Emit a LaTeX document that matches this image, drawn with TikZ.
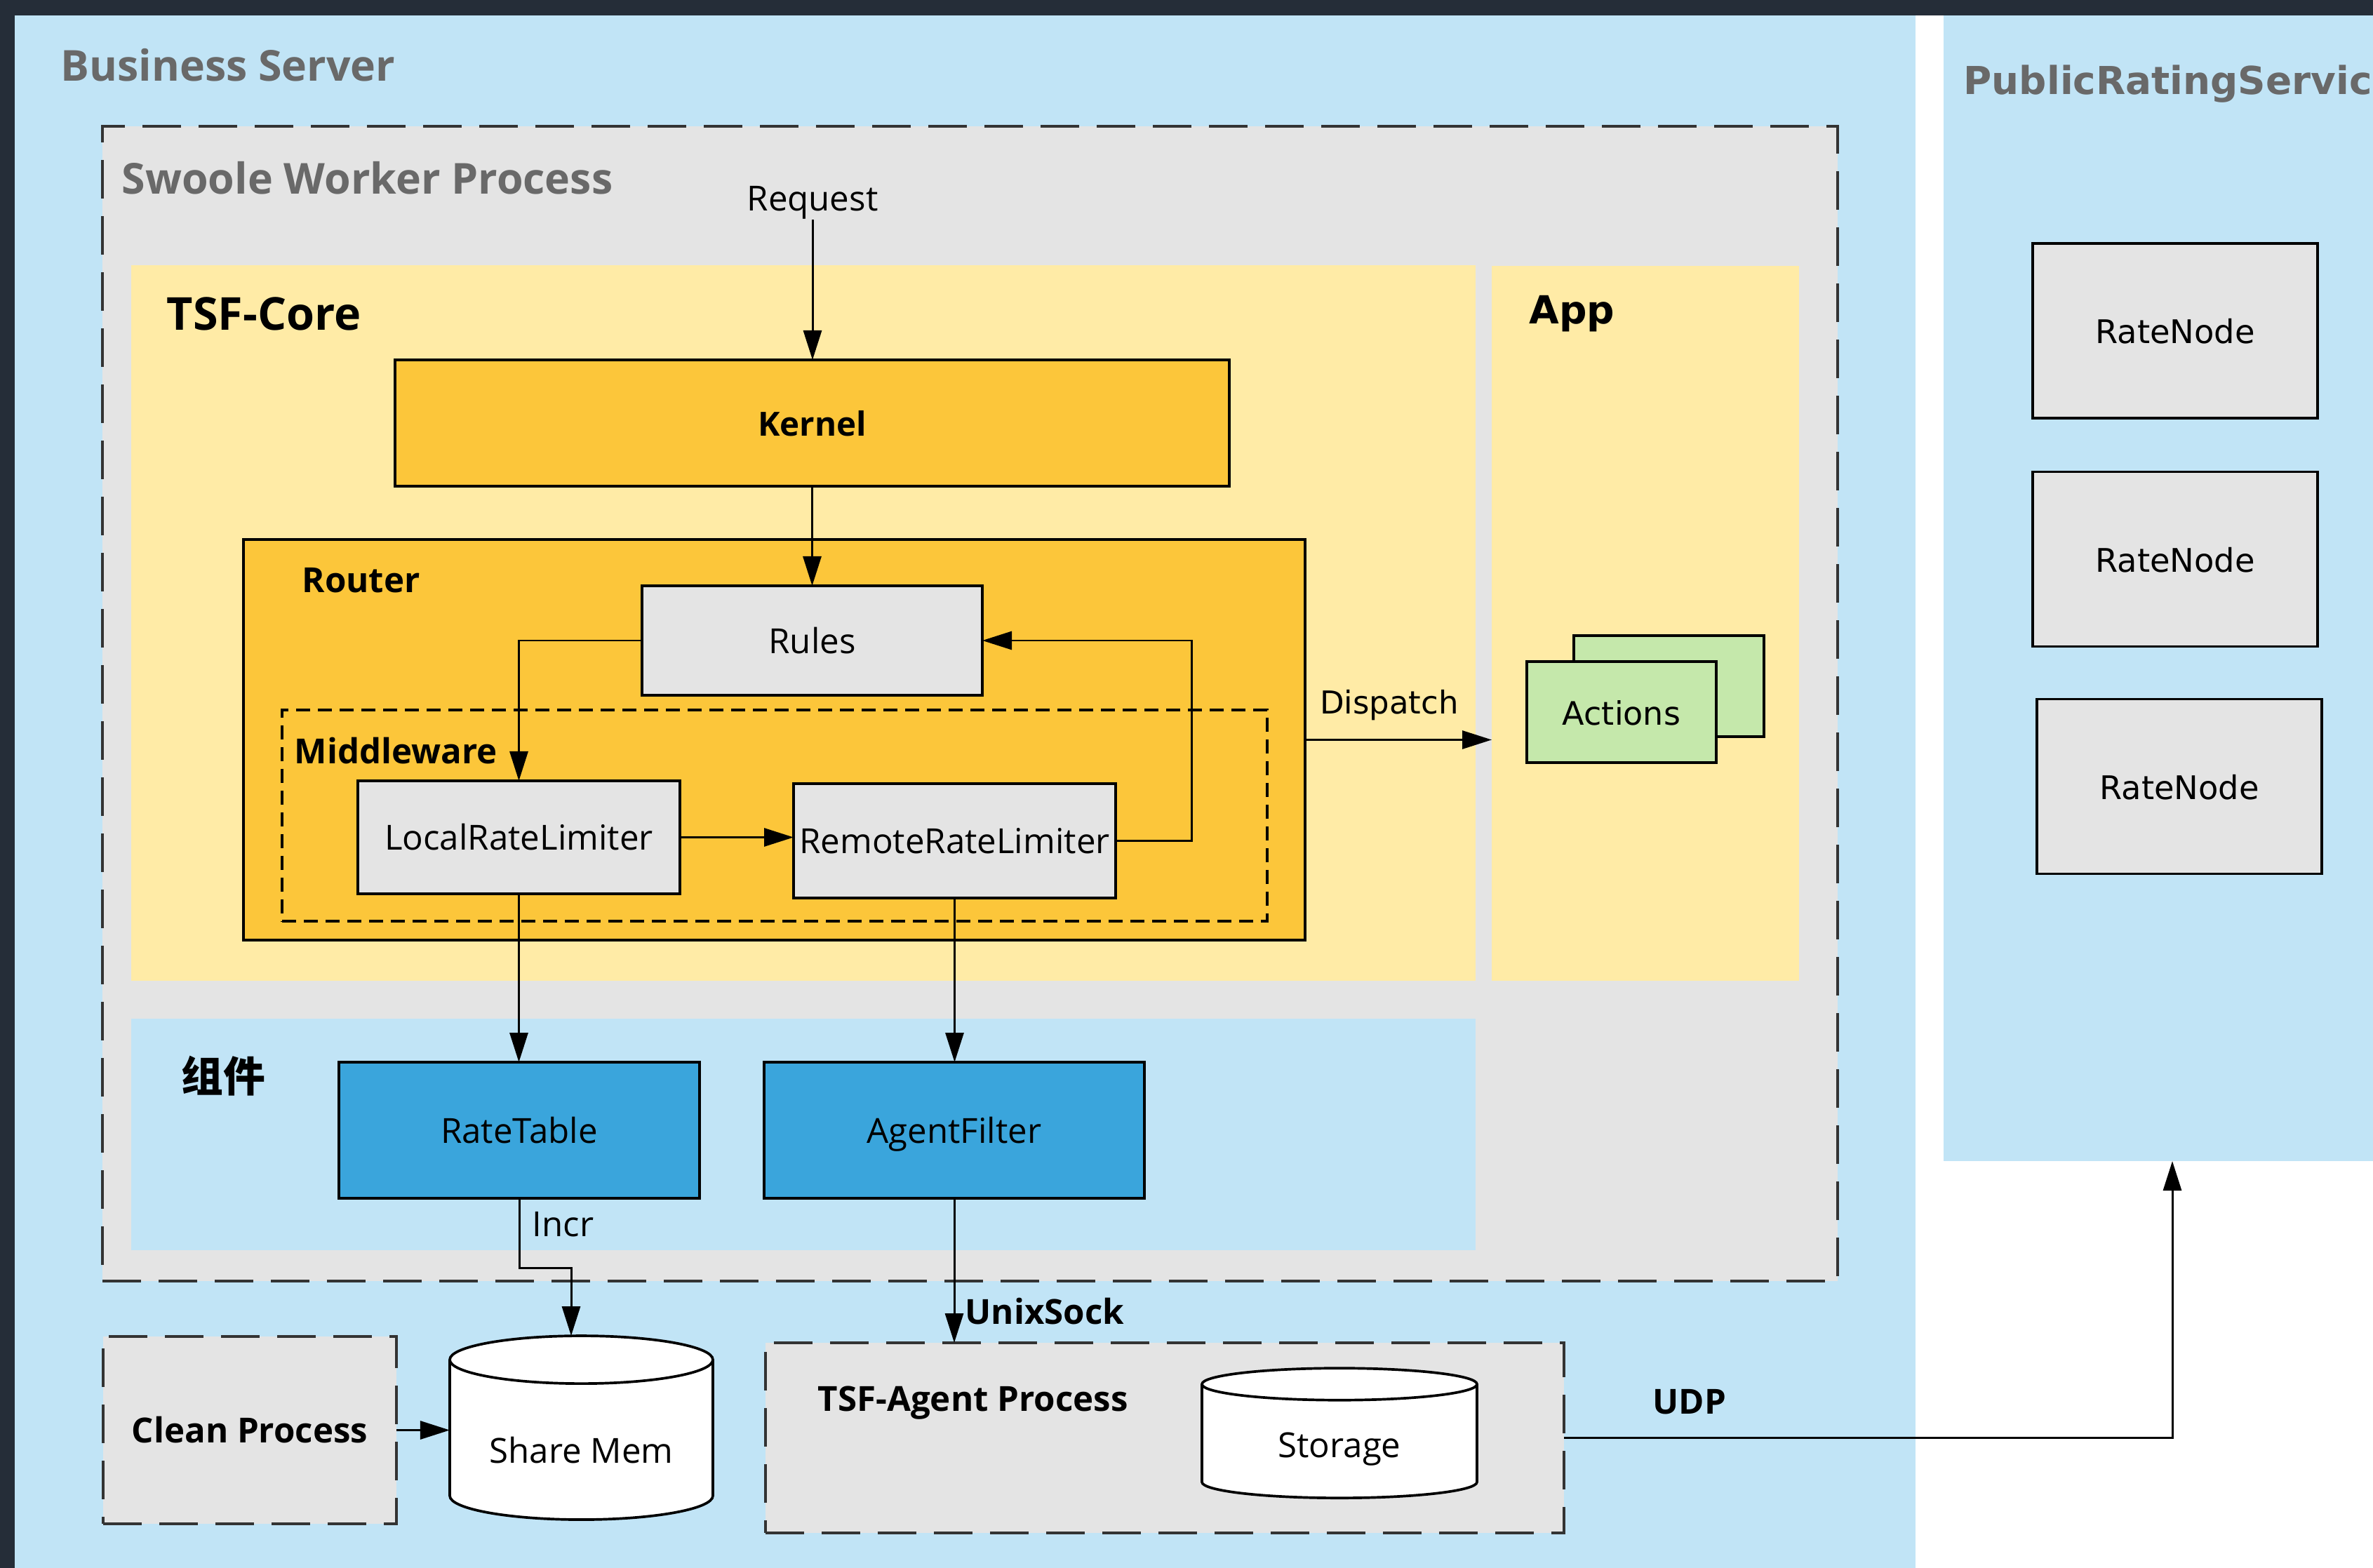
\documentclass[tikz,border=0pt]{standalone}
\usepackage{fontspec}
\setmainfont{Open Sans}
\newfontfamily\verdfont{DejaVu Sans}
\newfontfamily\cjkfont{Noto Sans CJK SC}
\usetikzlibrary{arrows.meta,shapes.geometric}

\definecolor{bgdark}{HTML}{252D38}
\definecolor{srvblue}{HTML}{C1E4F6}
\definecolor{procgray}{HTML}{E4E4E4}
\definecolor{coreyellow}{HTML}{FFEBA6}
\definecolor{kernelgold}{HTML}{FCC63A}
\definecolor{compblue}{HTML}{3AA5DC}
\definecolor{actgreen}{HTML}{C5E8AB}
\definecolor{titlegray}{HTML}{696969}

\tikzset{
  region/.style={inner sep=0pt, outer sep=0pt},
  dashregion/.style={region, draw=black!80, line width=1.4pt, dash pattern=on 0.55cm off 0.25cm},
  block/.style={draw=black, line width=1.05pt, inner sep=0pt, outer sep=0pt,
    text height=10.5pt, text depth=0pt, font=\fontsize{14}{16}\selectfont},
  title/.style={anchor=west, inner sep=0pt, text=titlegray, font=\bfseries\fontsize{17.3}{20}\selectfont},
  tag/.style={anchor=west, inner sep=0pt, font=\bfseries\fontsize{14}{16}\selectfont},
  note/.style={inner sep=0pt, font=\fontsize{14}{16}\selectfont},
  flow/.style={line width=0.85pt, -{Triangle[length=0.42cm, width=0.26cm]}},
  store/.style={block, cylinder, shape border rotate=90, aspect=0.26,
    text height=, text depth=,
    cylinder uses custom fill, cylinder body fill=white, cylinder end fill=white},
  ratenode/.style={block, fill=procgray, minimum width=4.06cm, minimum height=2.49cm,
    font=\verdfont\fontsize{13.2}{15}\selectfont},
}

\begin{document}
\begin{tikzpicture}[x=1cm, y=-1cm]
  \useasboundingbox (0,0) rectangle (33.82,22.35);
  \fill[bgdark] (0,0) rectangle (33.82,22.35);
  \fill[white] (27.30,0.22) rectangle (33.82,22.35);

  % servers
  \node[region, fill=srvblue, minimum width=27.09cm, minimum height=22.23cm] (business) at (13.755,11.335) {};
  \node[title] (businesslbl) at (0.86,0.93) {Business Server};
  \node[region, fill=srvblue, minimum width=6.32cm, minimum height=16.33cm] (pubrating) at (30.86,8.385) {};
  \node[title, font=\verdfont\bfseries\fontsize{15.6}{18}\selectfont] (publbl) at (27.98,1.20) {PublicRatingService};

  % worker process
  \node[dashregion, fill=procgray, minimum width=24.73cm, minimum height=16.46cm] (swoole) at (13.825,10.03) {};
  \node[title] (swoolelbl) at (1.73,2.54) {Swoole Worker Process};
  \node[region, fill=coreyellow, minimum width=19.16cm, minimum height=10.2cm] (tsfcore) at (11.45,8.88) {};
  \node[tag, font=\bfseries\fontsize{18.4}{21}\selectfont] (tsfcorelbl) at (2.37,4.47) {TSF-Core};
  \node[region, fill=coreyellow, minimum width=4.38cm, minimum height=10.19cm] (app) at (23.45,8.885) {};
  \node[tag, font=\verdfont\bfseries\fontsize{15.7}{18}\selectfont] (applbl) at (21.79,4.47) {App};
  \node[region, fill=srvblue, minimum width=19.16cm, minimum height=3.30cm] (comp) at (11.45,16.17) {};
  \node[tag, font=\cjkfont\bfseries\fontsize{17}{20}\selectfont] (complbl) at (2.58,15.34) {组件};

  \node[block, fill=kernelgold, minimum width=11.89cm, minimum height=1.80cm,
    font=\bfseries\fontsize{13.5}{16}\selectfont] (kernel) at (11.575,6.03) {Kernel};
  \node[block, fill=kernelgold, minimum width=15.13cm, minimum height=5.71cm] (router) at (11.035,10.545) {};
  \node[tag] (routerlbl) at (4.30,8.27) {Router};
  \node[region, draw=black, line width=1pt, dash pattern=on 0.2cm off 0.11cm,
    minimum width=14.04cm, minimum height=3.01cm] (middleware) at (11.04,11.625) {};
  \node[tag] (middlewarelbl) at (4.19,10.70) {Middleware};
  \node[block, fill=procgray, minimum width=4.85cm, minimum height=1.56cm] (rules) at (11.575,9.13) {Rules};
  \node[block, fill=procgray, minimum width=4.59cm, minimum height=1.61cm] (local) at (7.395,11.935) {LocalRateLimiter};
  \node[block, fill=procgray, minimum width=4.59cm, minimum height=1.63cm] (remote) at (13.605,11.985) {RemoteRateLimiter};

  \node[block, fill=compblue, minimum width=5.14cm, minimum height=1.94cm] (ratetable) at (7.40,16.11) {RateTable};
  \node[block, fill=compblue, minimum width=5.42cm, minimum height=1.94cm] (agentfilter) at (13.60,16.11) {AgentFilter};

  \node[block, fill=actgreen, minimum width=2.71cm, minimum height=1.44cm] (actionsback) at (23.785,9.78) {};
  \node[block, fill=actgreen, minimum width=2.70cm, minimum height=1.44cm,
    font=\verdfont\fontsize{13.1}{15}\selectfont] (actions) at (23.11,10.15) {Actions};

  % other processes
  \node[dashregion, fill=procgray, minimum width=4.18cm, minimum height=2.67cm,
    font=\bfseries\fontsize{14}{16}\selectfont] (clean) at (3.56,20.385) {Clean Process};
  \node[store, minimum width=3.75cm, minimum height=2.62cm] (sharemem) at (8.285,20.53)
    {\raisebox{-0.32cm}[0pt][0pt]{Share Mem}};
  \node[dashregion, fill=procgray, minimum width=11.38cm, minimum height=2.71cm] (tsfagent) at (16.60,20.495) {};
  \node[tag] (tsfagentlbl) at (11.65,20.00) {TSF-Agent Process};
  \node[store, minimum width=3.92cm, minimum height=1.85cm] (storage) at (19.09,20.55)
    {\raisebox{-0.22cm}[0pt][0pt]{Storage}};

  \foreach \i/\x/\y in {1/31.00/4.715, 2/31.00/7.97, 3/31.06/11.21}
    \node[ratenode] (rate\i) at (\x,\y) {RateNode};

  % labels on the connectors
  \node[note] (request) at (11.58,2.89) {Request};
  \node[note, font=\verdfont\fontsize{12.8}{15}\selectfont] (dispatch) at (19.80,10.05) {Dispatch};
  \node[note, anchor=west] (incr) at (7.58,17.45) {Incr};
  \node[tag] (unixsock) at (13.75,18.69) {UnixSock};
  \node[tag, anchor=center] (udp) at (24.08,19.98) {UDP};
  \coordinate (incrbend) at (8.14,18.07);

  \draw[flow] (request.south) -- (request.south |- kernel.north);
  \draw[flow] (kernel.south) -- (rules.north);
  \draw[flow] (rules.west) -| (local.north);
  \draw[flow] (local.east) -- (local.east -| remote.west);
  \draw[flow] (remote.east) -- ++(1.08,0) |- (rules.east);
  \draw[flow] (router.east) -- (router.east -| app.west);
  \draw[flow] (local.south) -- (local.south |- ratetable.north);
  \draw[flow] (remote.south) -- (remote.south |- agentfilter.north);
  \draw[flow] (ratetable.south) |- (incrbend) -- (incrbend |- sharemem.north);
  \draw[flow] (agentfilter.south) -- (agentfilter.south |- tsfagent.north);
  \draw[flow] (clean.east) -- (clean.east -| sharemem.west);
  \draw[flow] (tsfagent.east) -| ([xshift=0.1cm]pubrating.south);
\end{tikzpicture}
\end{document}
